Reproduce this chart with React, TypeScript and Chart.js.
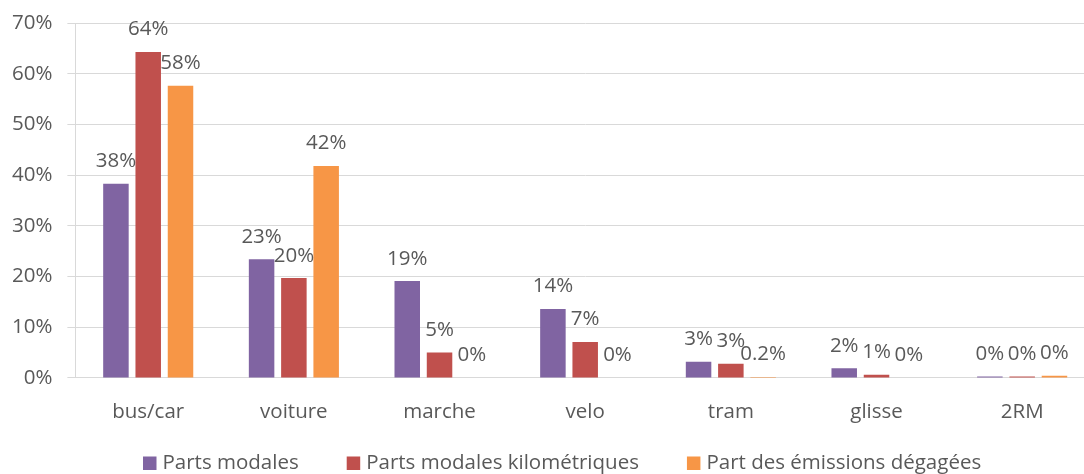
import React, { useEffect, useRef } from 'react';
import { Chart, registerables } from 'chart.js';

Chart.register(...registerables);

const categories = ['bus/car', 'voiture', 'marche', 'velo', 'tram', 'glisse', '2RM'];
const seriesNames = ['Parts modales', 'Parts modales kilométriques', 'Part des émissions dégagées'];
const partsModales = [38.3, 23.4, 19.1, 13.6, 3.2, 1.9, 0.3];
const partsKilometriques = [64.3, 19.7, 5.0, 7.1, 2.8, 0.6, 0.3];
const partEmissions = [57.6, 41.8, 0, 0, 0.2, 0, 0.4];
const partsModalesLabels = ['38%', '23%', '19%', '14%', '3%', '2%', '0%'];
const partsKilometriquesLabels = ['64%', '20%', '5%', '7%', '3%', '1%', '0%'];
const partEmissionsLabels = ['58%', '42%', '0%', '0%', '0.2%', '0%', '0%'];
const yTicks = [0, 10, 20, 30, 40, 50, 60, 70];

const seriesColors = ['#8064A2', '#C0504D', '#F79646'];
const valueLabels = [partsModalesLabels, partsKilometriquesLabels, partEmissionsLabels];

const FONT = '"Open Sans", sans-serif';
const FONT_SIZE = 20.5;
const TEXT = '#595959';
const GRID = '#d9d9d9';

const barLabelPlugin = {
  id: 'barLabels',
  afterDatasetsDraw(chart: any) {
    const ctx = chart.ctx;
    ctx.save();
    ctx.font = `${FONT_SIZE}px ${FONT}`;
    ctx.fillStyle = TEXT;
    ctx.textAlign = 'center';
    ctx.textBaseline = 'alphabetic';
    chart.data.datasets.forEach((_ds: any, i: number) => {
      const meta = chart.getDatasetMeta(i);
      meta.data.forEach((el: any, j: number) => {
        ctx.fillText(valueLabels[i][j], el.x, el.y - 16.5);
      });
    });
    ctx.restore();
  },
};

const legendPlugin = {
  id: 'bottomLegend',
  afterDraw(chart: any) {
    const ctx = chart.ctx;
    ctx.save();
    ctx.font = `${FONT_SIZE}px ${FONT}`;
    ctx.textBaseline = 'alphabetic';
    ctx.textAlign = 'left';
    const baseline = 469;
    let x = 143;
    chart.data.datasets.forEach((ds: any) => {
      ctx.fillStyle = ds.backgroundColor;
      ctx.fillRect(x, 456.5, 13.5, 13.5);
      ctx.fillStyle = TEXT;
      ctx.fillText(ds.label, x + 19.5, baseline);
      x += 19.5 + ctx.measureText(ds.label).width + 48;
    });
    ctx.restore();
  },
};

export default function App() {
  const canvasRef = useRef<HTMLCanvasElement | null>(null);

  useEffect(() => {
    if (!canvasRef.current) return;
    const seriesValues = [partsModales, partsKilometriques, partEmissions];
    const chart = new Chart(canvasRef.current, {
      type: 'bar',
      data: {
        labels: categories,
        datasets: seriesNames.map((name, i) => ({
          label: name,
          data: seriesValues[i],
          backgroundColor: seriesColors[i],
          borderWidth: 0,
          categoryPercentage: 0.665,
          barPercentage: 0.79,
        })),
      },
      options: {
        animation: false,
        responsive: true,
        maintainAspectRatio: false,
        layout: { padding: { left: -3, top: 23, right: 1, bottom: 27.5 } },
        plugins: {
          legend: { display: false },
          tooltip: { enabled: false },
        },
        scales: {
          x: {
            grid: { display: false, drawTicks: false },
            border: { display: true, color: GRID },
            ticks: { color: TEXT, font: { family: FONT, size: FONT_SIZE }, padding: 22 },
          },
          y: {
            min: 0,
            max: 70,
            afterBuildTicks: (axis: any) => {
              axis.ticks = yTicks.map((v) => ({ value: v }));
            },
            afterFit: (axis: any) => {
              axis.paddingTop = 0;
              axis.paddingBottom = 0;
            },
            grid: { color: GRID, tickLength: 8, drawTicks: true },
            border: { display: true, color: GRID },
            ticks: {
              color: TEXT,
              font: { family: FONT, size: FONT_SIZE },
              padding: 15,
              callback: (v: any) => `${v}%`,
            },
          },
        },
      },
      plugins: [barLabelPlugin, legendPlugin],
    });
    return () => chart.destroy();
  }, []);

  return (
    <div style={{ position: 'fixed', left: 0, top: 0, width: 1084, height: 474, overflow: 'hidden', background: '#fff' }}>
      <div style={{ position: 'relative', width: 1096, height: 474 }}>
        <canvas ref={canvasRef} />
      </div>
    </div>
  );
}
